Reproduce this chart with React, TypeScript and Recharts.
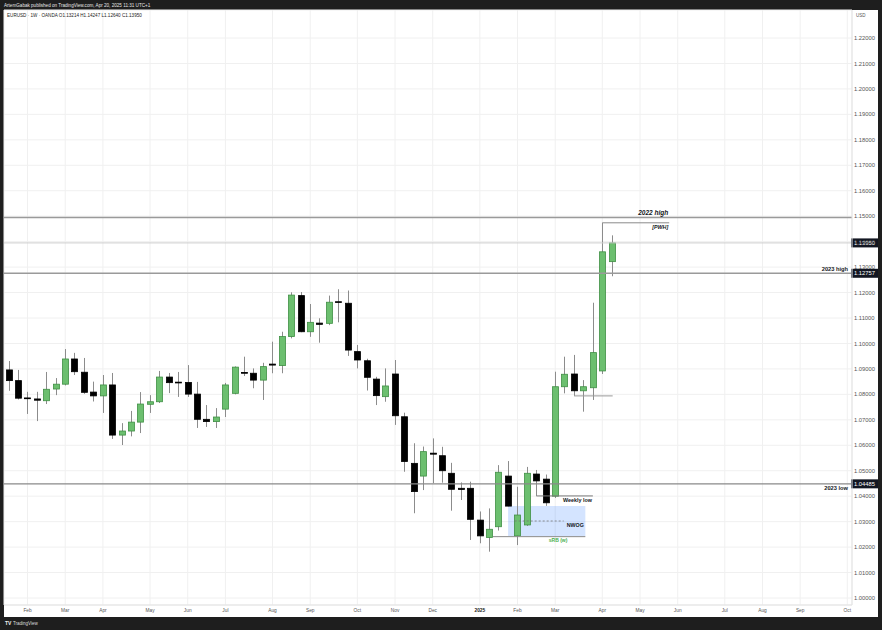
import {
  ComposedChart,
  Bar,
  XAxis,
  YAxis,
  CartesianGrid,
  ReferenceLine,
  ReferenceArea,
} from "recharts";

// EURUSD weekly, Jan 22 2024 .. Apr 14 2025 (OANDA)
const OPEN = [
  1.0896, 1.0854, 1.0786, 1.0782, 1.0775, 1.0821, 1.084, 1.0939, 1.0887, 1.0809,
  1.0794, 1.0837, 1.064, 1.0656, 1.0691, 1.0761, 1.0771, 1.0868, 1.0848, 1.0847,
  1.0801, 1.0702, 1.0693, 1.0742, 1.0804, 1.0886, 1.0883, 1.0856, 1.0919, 1.0913,
  1.1027, 1.1188, 1.1046, 1.108, 1.1079, 1.1164, 1.1158, 1.0968, 1.0932, 1.086,
  1.0791, 1.088, 1.0712, 1.0529, 1.0479, 1.0569, 1.0559, 1.049, 1.0431, 1.0431,
  1.0306, 1.0238, 1.028, 1.0479, 1.0244, 1.0287, 1.0487, 1.0467, 1.04, 1.083,
  1.088, 1.0814, 1.0826, 1.0892, 1.13214,
];
const HIGH = [
  1.0931, 1.0896, 1.081, 1.081, 1.0888, 1.0864, 1.0978, 1.0963, 1.0943, 1.085,
  1.0876, 1.0884, 1.0687, 1.0735, 1.0809, 1.0797, 1.0892, 1.0884, 1.0888, 1.0915,
  1.0849, 1.0758, 1.0746, 1.0845, 1.091, 1.0948, 1.0902, 1.0924, 1.1007, 1.1046,
  1.1201, 1.1202, 1.1155, 1.1099, 1.1188, 1.1213, 1.1208, 1.0994, 1.094, 1.0869,
  1.0902, 1.0935, 1.0728, 1.0608, 1.0595, 1.0627, 1.0594, 1.0531, 1.0454, 1.0457,
  1.034, 1.0352, 1.0522, 1.0538, 1.0437, 1.0515, 1.0503, 1.0485, 1.0889, 1.0948,
  1.0955, 1.0856, 1.116, 1.1474, 1.14247,
];
const LOW = [
  1.0814, 1.078, 1.0723, 1.0695, 1.0762, 1.0797, 1.0835, 1.0876, 1.0802, 1.0772,
  1.0727, 1.0625, 1.0601, 1.0635, 1.0648, 1.0727, 1.0766, 1.0805, 1.079, 1.079,
  1.0668, 1.0672, 1.0668, 1.0711, 1.08, 1.0872, 1.0824, 1.0778, 1.0883, 1.0883,
  1.102, 1.1044, 1.1026, 1.1003, 1.1072, 1.1083, 1.0951, 1.0902, 1.0815, 1.0758,
  1.0771, 1.068, 1.0496, 1.0333, 1.0424, 1.0451, 1.0453, 1.0343, 1.0385, 1.0228,
  1.0215, 1.0182, 1.0265, 1.036, 1.0208, 1.0283, 1.0401, 1.0362, 1.0393, 1.0804,
  1.0794, 1.0732, 1.0778, 1.088, 1.1264,
];
const CLOSE = [
  1.0854, 1.0785, 1.0784, 1.0777, 1.082, 1.084, 1.0939, 1.0889, 1.0808, 1.0794,
  1.0837, 1.064, 1.0656, 1.0691, 1.0762, 1.0771, 1.0868, 1.0846, 1.0847, 1.0801,
  1.0702, 1.0693, 1.0711, 1.0837, 1.0907, 1.0883, 1.0856, 1.0909, 1.0915, 1.1027,
  1.119, 1.1046, 1.1083, 1.1075, 1.1162, 1.1162, 1.0974, 1.0935, 1.0867, 1.0795,
  1.0833, 1.0716, 1.0536, 1.0418, 1.0575, 1.0565, 1.05, 1.0427, 1.0426, 1.0309,
  1.0244, 1.027, 1.0494, 1.0361, 1.0326, 1.049, 1.046, 1.0374, 1.083, 1.0879,
  1.0814, 1.083, 1.0964, 1.136, 1.1395,
];
const FUTURE_WEEKS = 25; // empty space up to Oct 2025

const MONTH_TICKS = [2, 6, 10, 15, 19, 23, 28, 32, 37, 41, 45, 50, 54, 58, 63, 67, 71, 76, 80, 84, 89];
const MONTH_LABELS = [
  "Feb", "Mar", "Apr", "May", "Jun", "Jul", "Aug", "Sep", "Oct", "Nov", "Dec",
  "2025", "Feb", "Mar", "Apr", "May", "Jun", "Jul", "Aug", "Sep", "Oct",
];
const PRICE_TICKS = [
  1.0, 1.01, 1.02, 1.03, 1.04, 1.05, 1.06, 1.07, 1.08, 1.09, 1.1, 1.11,
  1.12, 1.13, 1.14, 1.15, 1.16, 1.17, 1.18, 1.19, 1.2, 1.21, 1.22,
];

// drawn levels
const HIGH_2022 = 1.1495;
const LAST_PRICE = 1.1395;
const HIGH_2023 = 1.12757;
const LOW_2023 = 1.04485;
const WEEKLY_LOW = 1.0401;
const PWH = 1.1474;
const MARCH_LOW = 1.0794;
const NWOG_TOP = 1.0361;
const NWOG_BOTTOM = 1.0244;
const SRB = 1.0241;

const data = Array.from({ length: OPEN.length + FUTURE_WEEKS }, (_, i) => ({
  i,
  o: OPEN[i] ?? null,
  h: HIGH[i] ?? null,
  l: LOW[i] ?? null,
  c: CLOSE[i] ?? null,
}));

const FONT = "'Liberation Sans', Arial, sans-serif";
const GREEN = "#6cbf6f";
const GREEN_EDGE = "#3f8f44";
const WICK = "#8c8c8c";

const Candle = (props: any) => {
  const { x, y, width, height, payload } = props;
  if (!payload || payload.o == null || !height) return <g />;
  const { o, h, l, c } = payload;
  const px = (v: number) => y + ((h - v) / (h - l)) * height;
  const up = c >= o;
  const top = px(Math.max(o, c));
  const bot = px(Math.min(o, c));
  const cx = Math.round(x + width / 2 - 0.5) + 0.5;
  return (
    <g>
      <line x1={cx} x2={cx} y1={y} y2={y + height} stroke={WICK} strokeWidth={1} />
      <rect
        x={cx - width / 2}
        y={top}
        width={width}
        height={Math.max(bot - top, 0.8)}
        fill={up ? GREEN : "#000"}
        stroke={up ? GREEN_EDGE : "#000"}
        strokeWidth={0.8}
      />
    </g>
  );
};

const MonthTick = (props: any) => {
  const { x, y, payload } = props;
  const label = MONTH_LABELS[MONTH_TICKS.indexOf(payload.value)];
  return (
    <text
      x={x}
      y={y}
      dy="0.75em"
      textAnchor="middle"
      fontSize={4.8}
      fontFamily={FONT}
      fontWeight={label === "2025" ? 700 : 400}
      fill={label === "2025" ? "#222" : "#555"}
    >
      {label}
    </text>
  );
};

// text next to a level line plus optional price tag on the price scale
const levelLabel =
  (opts: { text?: string; above?: boolean; italic?: boolean; size?: number; color?: string; tag?: number; inset?: number }) =>
  (props: any) => {
    const vb = props.viewBox;
    if (!vb) return <g />;
    const right = vb.x + vb.width;
    const inset = opts.inset ?? 4;
    return (
      <g>
        {opts.text && (
          <text
            x={right - inset}
            y={opts.above ? vb.y - 2.5 : vb.y + 2}
            dy={opts.above ? 0 : "0.75em"}
            textAnchor="end"
            fontSize={opts.size ?? 5.7}
            fontWeight={700}
            fontStyle={opts.italic ? "italic" : "normal"}
            fontFamily={FONT}
            fill={opts.color ?? "#131722"}
          >
            {opts.text}
          </text>
        )}
        {opts.tag != null && (
          <g>
            <rect x={right - 1} y={vb.y - 4.5} width={27} height={9} fill="#131722" />
            <text x={right + 2} y={vb.y} dy="0.35em" fontSize={5.8} fontFamily={FONT} fill="#fff">
              {opts.tag.toFixed(5)}
            </text>
          </g>
        )}
      </g>
    );
  };

const App = () => {
  return (
    <div style={{ position: "fixed", left: 0, top: 0, width: 882, height: 630, background: "#1e1e1e" }}>
      <div style={{ position: "absolute", left: 4, top: 10, width: 874, height: 607, background: "#fff" }} />
      <div style={{ position: "absolute", left: 0, top: 0 }}>
        <ComposedChart
          width={882}
          height={630}
          data={data}
          margin={{ top: 10, right: 4, bottom: 13, left: 4 }}
        >
          <CartesianGrid stroke="#f0f0f0" strokeWidth={1} />
          <XAxis
            dataKey="i"
            type="category"
            ticks={MONTH_TICKS}
            interval={0}
            tick={<MonthTick />}
            tickLine={false}
            tickSize={0}
            tickMargin={3}
            height={12}
            axisLine={{ stroke: "#e3e3e3" }}
          />
          <XAxis xAxisId="n" dataKey="i" type="number" domain={[-0.5, 89.5]} allowDataOverflow hide />
          <YAxis
            orientation="right"
            type="number"
            domain={[0.99725, 1.231]}
            allowDataOverflow
            ticks={PRICE_TICKS}
            interval={0}
            tickFormatter={(v: number) => v.toFixed(5)}
            tick={{ fontSize: 5.8, fill: "#555", fontFamily: FONT }}
            tickLine={false}
            tickSize={0}
            tickMargin={2}
            width={26}
            axisLine={{ stroke: "#e3e3e3" }}
          />

          <ReferenceArea
            xAxisId="n"
            x1={53}
            x2={61.2}
            y1={NWOG_BOTTOM}
            y2={NWOG_TOP}
            fill="#2979ff"
            fillOpacity={0.2}
            stroke="none"
            label={levelLabel({})}
          />

          <Bar
            dataKey={(d: any) => (d.h == null ? null : [d.l, d.h])}
            barSize={6}
            shape={<Candle />}
            isAnimationActive={false}
          />

          <ReferenceLine y={HIGH_2022} stroke="#9a9a9a" strokeWidth={1.6} />
          <ReferenceLine
            xAxisId="n"
            segment={[{ x: 63, y: HIGH_2022 }, { x: 70.1, y: HIGH_2022 }]}
            stroke="none"
            label={levelLabel({ text: "2022 high", above: true, italic: true, size: 6.5, inset: 1 })}
          />
          <ReferenceLine
            xAxisId="n"
            segment={[{ x: 63, y: PWH }, { x: 70.1, y: PWH }]}
            stroke="#8a8a8a"
            strokeWidth={1}
            label={levelLabel({ text: "[PWH]", italic: true, size: 5.3, inset: 1 })}
          />
          <ReferenceLine y={LAST_PRICE} stroke="#cfcfcf" strokeWidth={1} label={levelLabel({ tag: LAST_PRICE })} />
          <ReferenceLine
            y={HIGH_2023}
            stroke="#9a9a9a"
            strokeWidth={1.6}
            label={levelLabel({ text: "2023 high", above: true, tag: HIGH_2023 })}
          />
          <ReferenceLine
            y={LOW_2023}
            stroke="#8a8a8a"
            strokeWidth={1.2}
            label={levelLabel({ text: "2023 low", tag: LOW_2023 })}
          />
          <ReferenceLine
            xAxisId="n"
            segment={[{ x: 56, y: WEEKLY_LOW }, { x: 62, y: WEEKLY_LOW }]}
            stroke="#7a7a7a"
            strokeWidth={1}
            label={levelLabel({ text: "Weekly low", size: 5.4, inset: 1 })}
          />
          <ReferenceLine
            xAxisId="n"
            segment={[{ x: 60, y: MARCH_LOW }, { x: 64.1, y: MARCH_LOW }]}
            stroke="#9a9a9a"
            strokeWidth={1}
          />
          <ReferenceLine
            xAxisId="n"
            segment={[{ x: 53.7, y: (NWOG_TOP + NWOG_BOTTOM) / 2 }, { x: 58.9, y: (NWOG_TOP + NWOG_BOTTOM) / 2 }]}
            stroke="#777"
            strokeWidth={0.8}
            strokeDasharray="2 2"
          />
          <ReferenceLine
            xAxisId="n"
            segment={[{ x: 58.9, y: (NWOG_TOP + NWOG_BOTTOM) / 2 }, { x: 61.2, y: (NWOG_TOP + NWOG_BOTTOM) / 2 }]}
            stroke="none"
            label={levelLabel({ text: "NWOG", size: 5.3, inset: 1.5, above: false })}
          />
          <ReferenceLine
            xAxisId="n"
            segment={[{ x: 51.4, y: SRB }, { x: 61.2, y: SRB }]}
            stroke="#8a8a8a"
            strokeWidth={1}
          />
          <ReferenceLine
            xAxisId="n"
            segment={[{ x: 54, y: SRB }, { x: 59.3, y: SRB }]}
            stroke="none"
            label={levelLabel({ text: "sRB (w)", size: 5, color: "#4caf50", inset: 0 })}
          />
        </ComposedChart>
      </div>
      <svg
        width={882}
        height={630}
        style={{ position: "absolute", left: 0, top: 0, pointerEvents: "none" }}
        fontFamily={FONT}
      >
        <text x={4} y={7} fontSize={4.6} fill="#e6e6e6">
          ArtemGabak published on TradingView.com, Apr 20, 2025 11:31 UTC+1
        </text>
        <text x={7} y={17} fontSize={4.6} fill="#222">
          EURUSD · 1W · OANDA  O1.13214  H1.14247  L1.12640  C1.13950
        </text>
        <text x={856} y={17} fontSize={4.5} fill="#555">
          USD
        </text>
        <text x={5} y={625} fontSize={5} fontWeight={700} fill="#eee">
          TV
        </text>
        <text x={13} y={625} fontSize={4.5} fill="#ddd">
          TradingView
        </text>
      </svg>
    </div>
  );
};

export default App;
